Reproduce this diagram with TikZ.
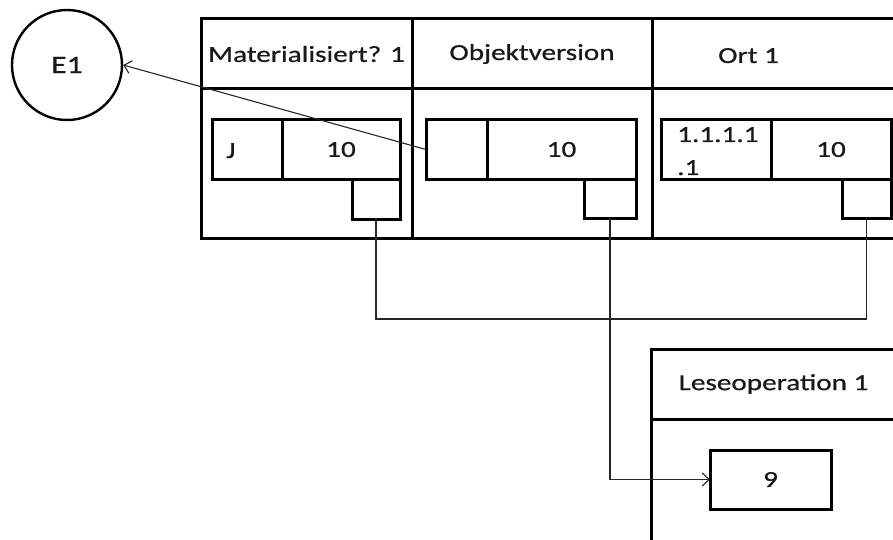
\documentclass[tikz,border=0pt]{standalone}
\usepackage{fontspec}
\setmainfont[FakeStretch=1.27,FakeBold=0.7]{Carlito}
\usetikzlibrary{arrows.meta}
\begin{document}
\begin{tikzpicture}[x=1pt,y=-1pt,
  every node/.style={font=\fontsize{23}{30}\selectfont, text=black!90},
  bx/.style={draw=black, line width=3pt, rectangle, inner sep=0pt, outer sep=0pt, anchor=north west},
  lbl/.style={inner sep=0pt, anchor=base west},
  conn/.style={line width=1.1pt, draw=black!85},
  tip/.style={-{Straight Barb[length=7pt,width=13pt,line width=1.1pt]}}
]
\useasboundingbox (0,0) rectangle (893,540);
\clip (0,0) rectangle (893,540);

% event circle
\node[draw, circle, line width=2.4pt, minimum size=110, inner sep=0pt, font=\fontsize{25}{30}\selectfont] (E1) at (67,65) {E1};

% column headers and bodies
\node[bx, minimum width=211, minimum height=70] (h1) at (201,19) {Materialisiert? 1};
\node[bx, minimum width=240, minimum height=70] (h2) at (412,19) {Objektversion};
\node[bx, minimum width=258, minimum height=70] (h3) at (652,19) {};
\node[lbl] (ort) at (718,63) {Ort 1};
\node[bx, minimum width=211, minimum height=149] (c1) at (201,89) {};
\node[bx, minimum width=240, minimum height=149] (c2) at (412,89) {};
\node[bx, minimum width=258, minimum height=149] (c3) at (652,89) {};

% column 1 cells
\node[bx, minimum width=70, minimum height=59] (a1) at (212,120) {};
\node[lbl] (j) at (226,158) {J};
\node[bx, minimum width=118, minimum height=59] (b1) at (282,120) {10};
\node[bx, minimum width=48, minimum height=40] (s1) at (352,179) {};

% column 2 cells
\node[bx, minimum width=61, minimum height=59] (a2) at (426,120) {};
\node[bx, minimum width=149, minimum height=59] (b2) at (487,120) {10};
\node[bx, minimum width=52, minimum height=39] (s2) at (584,179) {};

% column 3 cells
\node[bx, minimum width=110, minimum height=59] (a3) at (661,120) {};
\node[lbl] (v1) at (677,142) {1.1.1.1};
\node[lbl] (v2) at (677,175) {.1};
\node[bx, minimum width=120, minimum height=59] (b3) at (771,120) {10};
\node[bx, minimum width=49, minimum height=39] (s3) at (842,179) {};

% read operation
\node[bx, minimum width=245, minimum height=70] (lh) at (651,349) {Leseoperation 1};
\node[bx, minimum width=245, minimum height=150] (lb) at (651,419) {};
\node[bx, minimum width=121, minimum height=59] (nine) at (710,450) {9};

% connectors
\coordinate (bus) at (0,319);
\draw[conn] (s1.south) -- (s1.south |- bus) -- (s3.south |- bus) -- (s3.south);
\draw[conn, tip] (s2.south) |- (nine.west);
\draw[conn, tip] (a2.west) -- (E1.east);
\end{tikzpicture}
\end{document}
